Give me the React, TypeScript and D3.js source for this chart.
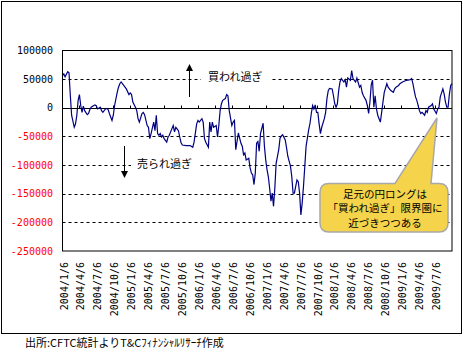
import * as d3 from 'd3';
import React, { useRef, useEffect } from 'react';

// weekly IMM yen net position, week 0 = 2004/1/6
const weeks = [
  0, 1, 2, 4, 5, 6, 7, 9, 10, 11, 12, 13, 14, 15, 16, 17, 19, 20, 21, 22, 24, 25, 26, 27, 29, 30, 31, 33, 34, 35, 36, 38, 39,
  40, 42, 43, 44, 45, 47, 48, 49, 51, 52, 53, 54, 56, 57, 58, 59, 61, 62, 63, 65, 66, 67, 68, 70, 71, 72, 73, 74,
  75, 76, 77, 78, 80, 81, 82, 83, 85, 86, 87, 89, 90, 91, 92, 95, 98, 100, 101, 103, 104, 105, 107, 108, 109, 110,
  112, 113, 114, 115, 116, 118, 119, 120, 121, 122, 123, 125, 126, 127, 128, 130, 131, 132,
  133, 135, 137, 138, 139, 140, 141, 143, 144, 145, 146, 147, 148, 149, 150, 151, 152, 154, 155, 156, 157, 158, 159,
  160, 161, 162, 163, 164, 166, 167, 168, 169, 171, 172, 173, 175, 176, 177, 178, 180, 181, 182, 183, 184, 185, 186,
  187, 189, 190, 191, 192, 193, 194, 195, 196, 197, 198, 199, 201, 202, 203, 204, 205, 207, 208, 209, 210, 211, 212,
  213, 214, 216, 217, 218, 219, 221, 222, 223, 224, 225, 226, 228, 229, 230, 231, 233, 234, 235, 236, 237, 238, 239,
  240, 241, 242, 243, 244, 245, 246, 247, 249, 250, 251, 252, 254, 255, 256, 258, 259, 261, 264, 267, 268, 269, 270,
  271, 272, 274, 275, 276, 278, 279, 280, 281, 283, 284, 285, 287, 288, 289, 290, 292, 293, 294, 295, 296, 297, 298, 299
];
const netLong = [
  56000, 59000, 54000, 63000, 61000, 22000, -13000, -34000, -28000, -13000, 13000, 23000, 4000, -8000, 3000, -5000,
  -12000, -10000, -3000, 1000, 4000, 5000, 3000, -2000, 1000, -5000, -8000, -2000, -1000, -3000, -10000, -22000, -13000,
  4000, 27000, 36000, 42000, 45000, 39000, 36000, 33000, 23000, 26000, 23000, 10000, 1000, -5000, -19000, -25000,
  -10000, -8000, -12000, -31000, -34000, -54000, -45000, -25000, -40000, -13000, -45000, -48000,
  -45000, -51000, -48000, -54000, -60000, -51000, -48000, -42000, -31000, -42000, -34000, -40000, -51000, -61000,
  -65000, -66000, -66000, -69000, -60000, -28000, -22000, -25000, -19000, -25000, -54000, -60000,
  -69000, -25000, -42000, -25000, -34000, -31000, -51000, -31000, -5000, 7000, 13000, 16000, 23000, 21000, -5000,
  -31000, -25000, -22000,
  -73000, -44000, -62000, -67000, -82000, -79000, -91000, -88000, -105000, -114000, -117000, -134000, -114000,
  -62000, -59000, -76000, -45000, -27000, -67000, -91000, -108000, -120000, -140000,
  -163000, -149000, -172000, -140000, -97000, -73000, -53000, -49000, -47000, -56000, -70000, -85000, -102000,
  -120000, -149000, -149000, -126000, -129000, -149000, -187000, -166000, -137000, -102000,
  -67000, -38000, -27000, -10000, 4000, -2000, 5000, -8000, -8000, -28000, -45000, -34000, -19000, -8000, 16000,
  30000, 34000, 33000, 21000, 7000, 1000, 7000, 30000,
  45000, 51000, 45000, 49000, 36000, 52000, 48000, 65000, 51000, 48000, 45000, 52000, 36000, 39000, 27000, 21000,
  13000, 4000, -10000, 10000, 40000, 48000, 1000,
  21000, -2000, -13000, -19000, -25000, -8000, 10000, 27000, 42000, 36000, 33000, 30000, 27000, 33000, 36000, 39000,
  42000, 45000, 48000, 49000, 51000, 42000, 30000,
  19000, 13000, -5000, -10000, -8000, -13000, -5000, -8000, 1000, 4000, 7000, -2000, -10000, -2000, 1000, 19000,
  33000, 24000, 10000, 1000, 1000, 24000, 39000, 42000
];

const dateLabels = [
  '2004/1/6', '2004/4/6', '2004/7/6', '2004/10/6',
  '2005/1/6', '2005/4/6', '2005/7/6', '2005/10/6',
  '2006/1/6', '2006/4/6', '2006/7/6', '2006/10/6',
  '2007/1/6', '2007/4/6', '2007/7/6', '2007/10/6',
  '2008/1/6', '2008/4/6', '2008/7/6', '2008/10/6',
  '2009/1/6', '2009/4/6', '2009/7/6'
];
const yTicks = [100000, 50000, 0, -50000, -100000, -150000, -200000, -250000];
const dashedLevels = [50000, -50000, -100000, -150000, -200000];

const overBought = '買われ過ぎ';
const overSold = '売られ過ぎ';
const calloutLines = ['足元の円ロングは', '「買われ過ぎ」限界圏に', '近づきつつある'];
const sourceNote = '出所:CFTC統計よりT&Cﾌｨﾅﾝｼｬﾙﾘｻｰﾁ作成';

export default function App() {
  const ref = useRef(null);
  const width = 472;
  const height = 354;
  const left = 62.5, right = 452, top = 50.5, bottom = 251;
  const lastWeek = 299;
  const weeksPerLabel = 13;
  const jp = '"Noto Sans CJK JP", sans-serif';
  const mono = '"DejaVu Sans Mono", monospace';

  useEffect(() => {
    const svg = d3.select(ref.current);
    svg.selectAll('*').remove();

    const x = d3.scaleLinear().domain([0, lastWeek]).range([left, right]);
    const y = d3.scaleLinear().domain([-250000, 100000]).range([bottom, top]);

    svg.append('rect')
      .attr('x', 1.5).attr('y', 1.5)
      .attr('width', 460).attr('height', 332)
      .attr('fill', '#fff').attr('stroke', '#000');

    // dashed levels
    svg.append('g').selectAll('line').data(dashedLevels).enter().append('line')
      .attr('x1', left).attr('x2', right)
      .attr('y1', d => Math.round(y(d)) + 0.5).attr('y2', d => Math.round(y(d)) + 0.5)
      .attr('stroke', '#000').attr('stroke-dasharray', '3,3');

    // zero line + ticks
    const y0 = Math.round(y(0)) + 0.5;
    svg.append('line')
      .attr('x1', left).attr('x2', right).attr('y1', y0).attr('y2', y0)
      .attr('stroke', '#000');
    svg.append('g').selectAll('line').data(dateLabels.slice(1)).enter().append('line')
      .attr('x1', (d, i) => Math.round(x((i + 1) * weeksPerLabel)) + 0.5)
      .attr('x2', (d, i) => Math.round(x((i + 1) * weeksPerLabel)) + 0.5)
      .attr('y1', y0 - 3).attr('y2', y0)
      .attr('stroke', '#000');

    // y labels
    svg.append('g').selectAll('text').data(yTicks).enter().append('text')
      .attr('x', 53).attr('y', d => y(d) + 3.6)
      .attr('text-anchor', 'end')
      .attr('font-family', mono).attr('font-size', 10)
      .attr('fill', d => (d < 0 ? '#ff0000' : '#000'))
      .text(d => d);

    // x labels
    svg.append('g').selectAll('text').data(dateLabels).enter().append('text')
      .attr('transform', (d, i) => 'translate(' + (x(i * weeksPerLabel) + 1.5) + ',262) rotate(-90)')
      .attr('text-anchor', 'end').attr('dy', '0.35em')
      .attr('font-family', mono).attr('font-size', 10)
      .attr('fill', '#000')
      .text(d => d);

    // over bought / over sold notes
    const yb = Math.round(y(50000));
    svg.append('rect').attr('x', 201).attr('y', yb - 10).attr('width', 70).attr('height', 18).attr('fill', '#fff');
    svg.append('text').attr('x', 208).attr('y', yb + 2)
      .attr('font-family', jp).attr('font-size', 11).text(overBought);
    const ys = Math.round(y(-100000));
    svg.append('rect').attr('x', 131).attr('y', ys - 9).attr('width', 68).attr('height', 18).attr('fill', '#fff');
    svg.append('text').attr('x', 137).attr('y', ys + 2.5)
      .attr('font-family', jp).attr('font-size', 11).text(overSold);

    // arrows
    svg.append('line').attr('x1', 189.5).attr('x2', 189.5).attr('y1', 97).attr('y2', 70).attr('stroke', '#000');
    svg.append('path').attr('d', 'M186,71L193,71L189.5,64Z').attr('fill', '#000');
    svg.append('line').attr('x1', 124.5).attr('x2', 124.5).attr('y1', 146).attr('y2', 172).attr('stroke', '#000');
    svg.append('path').attr('d', 'M121,171L128,171L124.5,178Z').attr('fill', '#000');

    // data line
    const pts = weeks.map((w, i) => [w, netLong[i]]);
    const line = d3.line().x(d => x(d[0])).y(d => y(d[1]));
    svg.append('path')
      .attr('d', line(pts))
      .attr('fill', 'none')
      .attr('stroke', '#000080')
      .attr('stroke-width', 1.2);

    // plot frame
    svg.append('rect')
      .attr('x', left).attr('y', top)
      .attr('width', right - left).attr('height', bottom - top)
      .attr('fill', 'none').attr('stroke', '#000');

    // callout
    const bx0 = 320, by0 = 183.5, bx1 = 448, by1 = 232, r = 9;
    const tipX = 437, tipY = 118;
    const p = d3.path();
    p.moveTo(bx0 + r, by0);
    p.lineTo(395, by0);
    p.lineTo(tipX, tipY);
    p.lineTo(431, by0);
    p.lineTo(bx1 - r, by0);
    p.quadraticCurveTo(bx1, by0, bx1, by0 + r);
    p.lineTo(bx1, by1 - r);
    p.quadraticCurveTo(bx1, by1, bx1 - r, by1);
    p.lineTo(bx0 + r, by1);
    p.quadraticCurveTo(bx0, by1, bx0, by1 - r);
    p.lineTo(bx0, by0 + r);
    p.quadraticCurveTo(bx0, by0, bx0 + r, by0);
    p.closePath();
    svg.append('path').attr('d', p.toString())
      .attr('fill', '#f5d44c').attr('stroke', '#a8a8a8').attr('stroke-width', 1.5);
    svg.append('g').selectAll('text').data(calloutLines).enter().append('text')
      .attr('x', 385).attr('y', (d, i) => 197.5 + i * 14.5)
      .attr('text-anchor', 'middle')
      .attr('font-family', jp).attr('font-size', 10.5)
      .attr('fill', '#000')
      .text(d => d);

    svg.append('text').attr('x', 25).attr('y', 347)
      .attr('font-family', jp).attr('font-size', 11)
      .text(sourceNote);
  }, []);

  return (
    <svg ref={ref} width={width} height={height}
      style={{ position: 'absolute', left: 0, top: 0, background: '#fff' }}>
    </svg>
  );
}
